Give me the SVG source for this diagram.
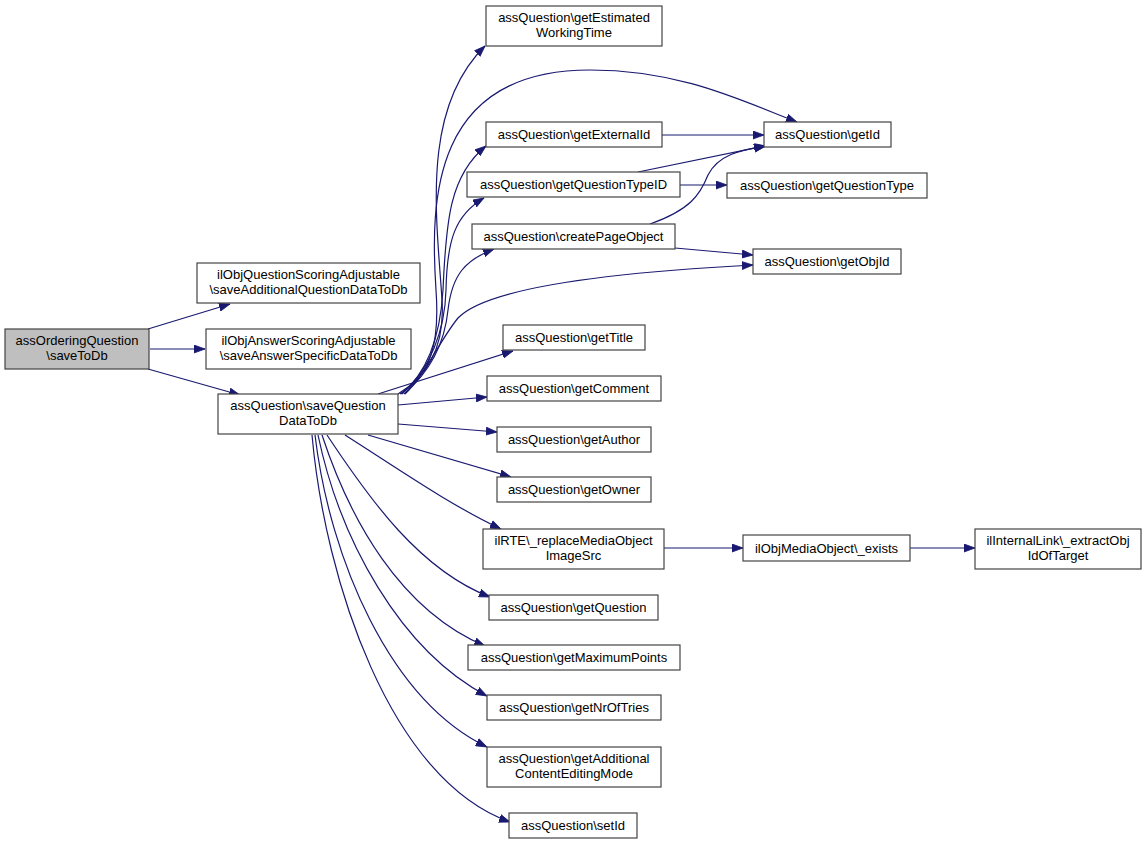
<svg xmlns="http://www.w3.org/2000/svg" width="1147" height="845" viewBox="0 0 1147 845">
<style>
.n rect{fill:#ffffff;stroke:#444444;stroke-width:1.2}
.n.root rect{fill:#bfbfbf}
.n text{font-family:"Liberation Sans",Arial,sans-serif;font-size:13px;fill:#000000;text-anchor:middle}
#edges path{fill:none;stroke:#191970;stroke-width:1.2;marker-end:url(#ah)}
</style>
<defs>
<marker id="ah" markerUnits="userSpaceOnUse" markerWidth="12" markerHeight="9" refX="11" refY="4.5" orient="auto">
<path d="M0,0.5 L11,4.5 L0,8.5 z" fill="#191970" stroke="#191970" stroke-width="0.8"/>
</marker>
</defs>
<rect width="1147" height="845" fill="#ffffff"/>
<g id="edges">
<path d="M148,329 L230,304"/>
<path d="M150,349 L205,349"/>
<path d="M148,369 L240,395"/>
<path d="M398,394 C430,375 445,345 442,300 C437,220 420,110 485,46"/>
<path d="M400,394 C430,375 440,345 436,290 C430,200 432,70 590,70 C680,70 740,100 797,122"/>
<path d="M401,394 C425,375 440,340 443,290 C446,220 450,175 486,146"/>
<path d="M402,394 C430,370 445,330 446,290 C447,240 455,215 484,198"/>
<path d="M404,394 C432,370 445,340 448,310 C452,275 465,260 494,249"/>
<path d="M405,394 C425,375 440,340 458,318 C480,295 560,275 753,265"/>
<path d="M378,394 L513,351"/>
<path d="M398,405 L487,397"/>
<path d="M398,424 L497,432"/>
<path d="M368,435 L511,477"/>
<path d="M345,435 C400,470 450,505 501,529"/>
<path d="M327,435 C370,500 420,570 490,597"/>
<path d="M322,435 C350,520 400,610 485,646"/>
<path d="M318,435 C340,540 400,650 487,696"/>
<path d="M315,435 C330,560 390,700 487,747"/>
<path d="M312,435 C325,580 390,780 510,822"/>
<path d="M662,135 L764,135"/>
<path d="M638,172 L765,146"/>
<path d="M680,185 L727,185"/>
<path d="M650,224 C690,210 700,195 708,175 C718,155 740,150 766,146"/>
<path d="M675,248 L753,255"/>
<path d="M664,548 L743,548"/>
<path d="M910,548 L975,548"/>
</g>
<g id="n1" class="n root"><rect x="5" y="329" width="144" height="40"/><text x="77" y="345">assOrderingQuestion</text><text x="77" y="360">\saveToDb</text></g>
<g id="n2" class="n"><rect x="197" y="263" width="223" height="40"/><text x="308.5" y="279">ilObjQuestionScoringAdjustable</text><text x="308.5" y="294">\saveAdditionalQuestionDataToDb</text></g>
<g id="n3" class="n"><rect x="206" y="329" width="205" height="40"/><text x="308.5" y="345">ilObjAnswerScoringAdjustable</text><text x="308.5" y="360">\saveAnswerSpecificDataToDb</text></g>
<g id="n4" class="n"><rect x="218" y="394" width="180" height="40"/><text x="308" y="410">assQuestion\saveQuestion</text><text x="308" y="425">DataToDb</text></g>
<g id="n5" class="n"><rect x="486" y="6" width="176" height="40"/><text x="574" y="22">assQuestion\getEstimated</text><text x="574" y="37">WorkingTime</text></g>
<g id="n6" class="n"><rect x="486" y="122" width="176" height="25"/><text x="574" y="139">assQuestion\getExternalId</text></g>
<g id="n7" class="n"><rect x="467" y="172" width="213" height="25"/><text x="573.5" y="189">assQuestion\getQuestionTypeID</text></g>
<g id="n8" class="n"><rect x="472" y="224" width="203" height="25"/><text x="573.5" y="241">assQuestion\createPageObject</text></g>
<g id="n9" class="n"><rect x="764" y="122" width="127" height="25"/><text x="827.5" y="139">assQuestion\getId</text></g>
<g id="n10" class="n"><rect x="727" y="173" width="200" height="25"/><text x="827" y="190">assQuestion\getQuestionType</text></g>
<g id="n11" class="n"><rect x="753" y="249" width="148" height="25"/><text x="827" y="266">assQuestion\getObjId</text></g>
<g id="n12" class="n"><rect x="503" y="325" width="142" height="25"/><text x="574" y="342">assQuestion\getTitle</text></g>
<g id="n13" class="n"><rect x="487" y="376" width="174" height="25"/><text x="574" y="393">assQuestion\getComment</text></g>
<g id="n14" class="n"><rect x="497" y="427" width="154" height="25"/><text x="574" y="444">assQuestion\getAuthor</text></g>
<g id="n15" class="n"><rect x="497" y="477" width="154" height="25"/><text x="574" y="494">assQuestion\getOwner</text></g>
<g id="n16" class="n"><rect x="483" y="529" width="181" height="40"/><text x="573.5" y="545">ilRTE\_replaceMediaObject</text><text x="573.5" y="560">ImageSrc</text></g>
<g id="n17" class="n"><rect x="489" y="595" width="169" height="25"/><text x="573.5" y="612">assQuestion\getQuestion</text></g>
<g id="n18" class="n"><rect x="468" y="645" width="212" height="25"/><text x="574" y="662">assQuestion\getMaximumPoints</text></g>
<g id="n19" class="n"><rect x="487" y="695" width="174" height="25"/><text x="574" y="712">assQuestion\getNrOfTries</text></g>
<g id="n20" class="n"><rect x="487" y="747" width="174" height="40"/><text x="574" y="763">assQuestion\getAdditional</text><text x="574" y="778">ContentEditingMode</text></g>
<g id="n21" class="n"><rect x="509" y="813" width="128" height="25"/><text x="573" y="830">assQuestion\setId</text></g>
<g id="n22" class="n"><rect x="743" y="535" width="167" height="26"/><text x="826.5" y="553">ilObjMediaObject\_exists</text></g>
<g id="n23" class="n"><rect x="975" y="529" width="166" height="40"/><text x="1058" y="545">ilInternalLink\_extractObj</text><text x="1058" y="560">IdOfTarget</text></g>
</svg>
